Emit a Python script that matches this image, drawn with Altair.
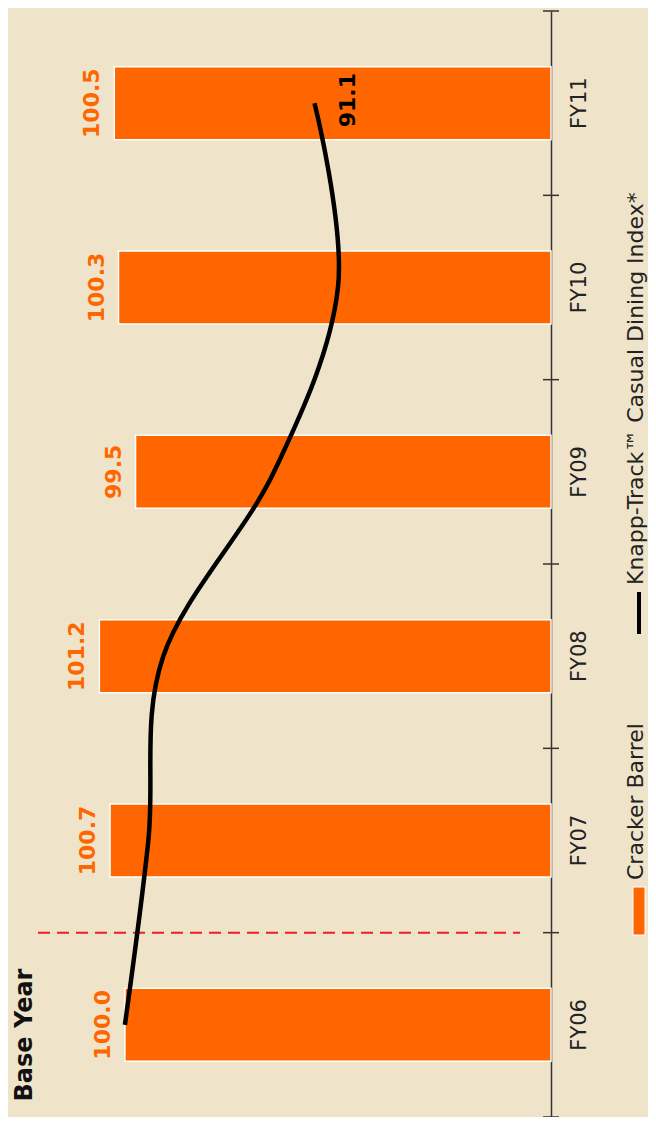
import altair as alt
import pandas as pd

categories = ["FY06", "FY07", "FY08", "FY09", "FY10", "FY11"]
cracker_barrel = [100.0, 100.7, 101.2, 99.5, 100.3, 100.5]
knapp_track = [100.0, 98.9, 98.2, 93.0, 90.0, 91.1]
legend_labels = ["Cracker Barrel", "Knapp-Track\u2122 Casual Dining Index*"]
annotation = ["Base Year"]
base_year = ["FY06"]

ORANGE = "#FF6600"
BG = "#EFE4C9"
FONT = "DejaVu Sans"

df = pd.DataFrame({
    "year": categories,
    "cb": cracker_barrel,
    "kt": knapp_track,
    "idx": list(range(len(categories))),
    "cb_label": [f"{v:.1f}" for v in cracker_barrel],
    "kt_label": [f"{v:.1f}" for v in knapp_track],
})

y_scale = alt.Scale(domain=categories[::-1], paddingInner=0, paddingOuter=0)
x_scale = alt.Scale(domain=[80, 105.3], reverse=True, zero=False, nice=False)

y_axis = alt.Axis(
    orient="right", ticks=False, domain=True, domainColor="#333333", domainWidth=1.5,
    labelAngle=270, labelAlign="center", labelBaseline="top", labelPadding=17,
    labelFont=FONT, labelFontSize=21, labelColor="#222222", title=None, grid=False,
)

def Y(**kw):
    return alt.Y("year:N", scale=y_scale, axis=y_axis, title=None, **kw)

base = alt.Chart(df)

bars = base.mark_bar(color=ORANGE, stroke="white", strokeWidth=1.5, size=73).encode(
    y=Y(),
    x=alt.X("cb:Q", scale=x_scale, axis=None),
    x2=alt.datum(80),
)

bar_labels = base.mark_text(
    angle=270, align="center", baseline="alphabetic", dy=-15,
    font=FONT, fontSize=22, fontWeight="bold", color=ORANGE,
).encode(
    y=Y(),
    x=alt.X("cb:Q", scale=x_scale, axis=None),
    text="cb_label:N",
)

line = base.mark_line(color="black", strokeWidth=4.5, interpolate="cardinal").encode(
    y=Y(),
    x=alt.X("kt:Q", scale=x_scale, axis=None),
    order=alt.Order("idx:Q"),
)

line_label = base.transform_filter(
    alt.datum.year == categories[-1]
).mark_text(
    angle=270, align="center", baseline="alphabetic", dy=40, dx=3,
    font=FONT, fontSize=22, fontWeight="bold", color="black",
).encode(
    y=Y(),
    x=alt.X("kt:Q", scale=x_scale, axis=None),
    text="kt_label:N",
)

tick_df = pd.DataFrame({"year": categories})
ticks_top = alt.Chart(tick_df).mark_rule(color="#333333", strokeWidth=1.5).encode(
    y=Y(bandPosition=0), x=alt.value(531), x2=alt.value(547),
)
ticks_bottom = alt.Chart(pd.DataFrame({"year": [categories[0]]})).mark_rule(
    color="#333333", strokeWidth=1.5
).encode(
    y=Y(bandPosition=1), x=alt.value(531), x2=alt.value(547),
)

red_rule = alt.Chart(pd.DataFrame({"year": base_year})).mark_rule(
    color="#EE1C25", strokeWidth=2, strokeDash=[12, 7]
).encode(
    y=Y(bandPosition=0), x=alt.value(26), x2=alt.value(508),
)

base_text = alt.Chart(pd.DataFrame({"t": annotation})).mark_text(
    angle=270, align="center", baseline="alphabetic",
    font=FONT, fontSize=24, fontWeight="bold", color="#111111",
).encode(x=alt.value(20), y=alt.value(1024), text="t:N")

leg_df = pd.DataFrame({"label": legend_labels})
leg_rect = alt.Chart(leg_df.iloc[[0]]).mark_rect(
    color=ORANGE, stroke="white", strokeWidth=1
).encode(x=alt.value(621), x2=alt.value(633), y=alt.value(876), y2=alt.value(924))
leg_line = alt.Chart(leg_df.iloc[[1]]).mark_rule(color="black", strokeWidth=4).encode(
    x=alt.value(627), y=alt.value(581), y2=alt.value(623)
)
leg_text1 = alt.Chart(leg_df.iloc[[0]]).mark_text(
    angle=270, align="left", baseline="alphabetic", font=FONT, fontSize=22, color="#222222"
).encode(x=alt.value(631), y=alt.value(869), text="label:N")
leg_text2 = alt.Chart(leg_df.iloc[[1]]).mark_text(
    angle=270, align="left", baseline="alphabetic", font=FONT, fontSize=22, color="#222222"
).encode(x=alt.value(631), y=alt.value(574), text="label:N")

chart = alt.layer(
    bars, bar_labels, red_rule, line, line_label, ticks_top, ticks_bottom,
    base_text, leg_rect, leg_line, leg_text1, leg_text2,
).properties(
    width=539, height=1106,
    autosize=alt.AutoSizeParams(type="none"),
    padding={"left": 4, "top": 3, "right": 97, "bottom": 0},
    background=BG,
).configure_view(stroke=None)

chart.save("out.html", embed_options={"renderer": "svg", "actions": False})
